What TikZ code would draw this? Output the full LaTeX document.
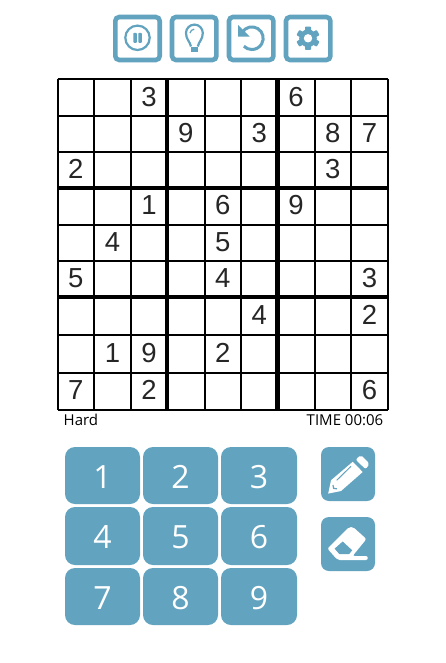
\documentclass[tikz,border=0pt]{standalone}
\usepackage{xcolor}
\usepackage{fontspec}
\setmainfont{Open Sans}
\newfontfamily\digitfont{Liberation Sans}
\definecolor{keyblue}{HTML}{62A3BF}
\tikzset{
	toolbox/.style={draw=keyblue, line width=4.6pt, rounded corners=4pt, fill=white},
	keybox/.style={fill=keyblue, rounded corners=10pt},
	sidebox/.style={fill=keyblue, rounded corners=8pt},
	keydigit/.style={text=white, yshift=-1.5pt, font=\fontsize{32}{32}\selectfont},
	celldigit/.style={inner sep=0pt, text=black!85, font=\digitfont\fontsize{27.5}{27.5}\selectfont},
	thinline/.style={line width=2pt},
	thickline/.style={line width=4.4pt},
	statustext/.style={inner sep=0pt, font=\fontsize{15}{15}\selectfont},
}
\def\gridx{{57.5,94,131,167,204.5,241,277.5,314.5,351,388}}
\def\gridy{{79.5,116,152.5,188,225,261,297,335,372.5,409.5}}
\begin{document}
\begin{tikzpicture}[x=1pt,y=1pt]
	\useasboundingbox (0,0) rectangle (445,-663);
	\fill[white] (0,0) rectangle (445,-663);

	% Tool buttons
	\foreach \bx in {115.3,172,229,286}
		\draw[toolbox] (\bx,-17) rectangle (\bx+44.4,-60);

	% Pause
	\draw[keyblue, line width=2.2pt] (137.5,-37.8) circle (12.2);
	\fill[keyblue, rounded corners=0.8pt] (133.4,-32.8) rectangle (136.8,-42.8);
	\fill[keyblue, rounded corners=0.8pt] (138.4,-32.8) rectangle (141.8,-42.8);

	% Bulb
	\draw[keyblue, line width=2.2pt] (191,-46.5) .. controls (190,-41.5) and (186,-39.5) .. (186,-33) arc[start angle=180, end angle=0, radius=8.4] .. controls (202.8,-39.5) and (198.8,-41.5) .. (197.8,-46.5);
	\fill[keyblue] (190.6,-47.5) rectangle (198.2,-51.8);
	\draw[keyblue, line width=1.2pt] (190,-33) arc[start angle=170, end angle=95, radius=4.6];

	% Undo
	\draw[keyblue, line width=3pt] (242.2,-32.4) arc[start angle=149, end angle=-135, radius=11.3];
	\fill[keyblue] (238,-25) -- (238,-36.7) -- (249.7,-36.7) -- cycle;

	% Gear
	\fill[keyblue] (308,-38.3) circle (8.8);
	\foreach \a in {0,60,...,300}
		\fill[keyblue, rotate around={\a:(308,-38.3)}, rounded corners=0.8pt] (305,-38.3) rectangle (311,-26.6);
	\fill[white] (308,-38.3) circle (4.2);

	% Board
	\foreach \i in {0,...,9} {
		\pgfmathsetmacro\lx{\gridx[\i]}
		\pgfmathsetmacro\ly{\gridy[\i]}
		\draw[thinline] (\lx,-79.5) -- (\lx,-409.5);
		\draw[thinline] (57.5,-\ly) -- (388,-\ly);
	}
	\foreach \i in {3,6} {
		\pgfmathsetmacro\lx{\gridx[\i]}
		\pgfmathsetmacro\ly{\gridy[\i]}
		\draw[thickline] (\lx,-79.5) -- (\lx,-409.5);
		\draw[thickline] (57.5,-\ly) -- (388,-\ly);
	}
	\draw[line width=1.4pt, fill=none] (57.5,-79.5) rectangle (388,-409.5);

	% Given digits
	\foreach \r/\c/\v in {1/3/3,1/7/6,2/4/9,2/6/3,2/8/8,2/9/7,3/1/2,3/8/3,4/3/1,4/5/6,4/7/9,5/2/4,5/5/5,6/1/5,6/5/4,6/9/3,7/6/4,7/9/2,8/2/1,8/3/9,8/5/2,9/1/7,9/3/2,9/9/6} {
		\pgfmathtruncatemacro\cl{\c-1}
		\pgfmathtruncatemacro\rt{\r-1}
		\pgfmathsetmacro\xa{\gridx[\cl]}
		\pgfmathsetmacro\xb{\gridx[\c]}
		\pgfmathsetmacro\ya{\gridy[\rt]}
		\pgfmathsetmacro\yb{\gridy[\r]}
		\node[celldigit] (cell\r\c) at ({(\xa+\xb)/2},{-(\ya+\yb)/2+1}) {\v};
	}

	% Status line
	\node[statustext, anchor=base west] (level) at (63.5,-425.5) {Hard};
	\node[statustext, anchor=base east] (clock) at (383.5,-425.5) {TIME 00:06};

	% Number keys
	\foreach \n/\kx/\ky/\kxx/\kyy in {1/65/447/140/504,2/143/447/218/504,3/221/447/297/504,4/65/507/140/565,5/143/507/218/565,6/221/507/297/565,7/65/568/140/625,8/143/568/218/625,9/221/568/297/625}
		\path[keybox] (\kx,-\ky) rectangle (\kxx,-\kyy) node[midway, keydigit] (key\n) {\n};

	% Pencil
	\path[sidebox] (321,-447) rectangle (375,-501);
	\fill[white] (328.2,-493.6) -- (331,-480.3) -- (352.7,-461.8) -- (362.7,-472) -- (341,-491) -- cycle;
	\fill[white, rounded corners=2pt] (355.6,-459.6) -- (360.8,-455) -- (369.6,-463.8) -- (365.6,-469.2) -- cycle;
	\draw[keyblue, line width=1pt] (336.7,-480.3) -- (351,-466.3);
	\draw[keyblue, line width=1.2pt] (333,-485) -- (333.6,-488.4) -- (336.8,-488.8);

	% Eraser
	\path[sidebox] (321,-517) rectangle (375,-571);
	\fill[white, rounded corners=2pt] (327.4,-548.6) -- (349.2,-527) -- (353,-527) -- (366.4,-539) -- (352.6,-556) -- (367.8,-556) -- (367.8,-560) -- (337.6,-560) -- cycle;
	\fill[keyblue] (334.6,-548.7) -- (342.7,-541.5) -- (352.2,-550.3) -- (349,-554.2) -- (339.5,-554.2) -- cycle;
\end{tikzpicture}
\end{document}
